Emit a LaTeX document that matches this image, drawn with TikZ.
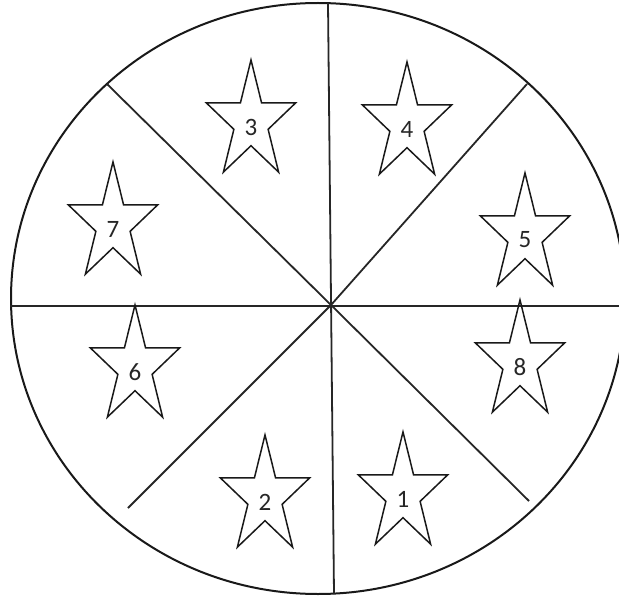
\documentclass[tikz,border=0pt]{standalone}
\usepackage{fontspec}
\setmainfont{Carlito}
\begin{document}
\begin{tikzpicture}[x=1pt,y=-1pt,
  rim/.style={line width=2pt, draw=black!90},
  spoke/.style={line width=1.8pt, draw=black!85},
  starline/.style={line width=1.5pt, draw=black!90, line join=miter},
  numlbl/.style={font=\fontsize{25}{30}\selectfont, inner sep=0pt, text=black!85},
  starpic/.pic={
    \draw[starline] (90:47pt and 62pt) -- (126:18pt and 23.7pt) -- (162:47pt and 62pt)
      -- (198:18pt and 23.7pt) -- (234:47pt and 62pt) -- (270:18pt and 23.7pt)
      -- (306:47pt and 62pt) -- (342:18pt and 23.7pt) -- (18:47pt and 62pt)
      -- (54:18pt and 23.7pt) -- cycle;
    \node[numlbl] (-n) at (0,5) {#1};
  }]
\useasboundingbox (0,0) rectangle (619,599);
\begin{scope}
\clip (0,0) rectangle (619,599);
\node[draw=none, inner sep=0pt, minimum size=0pt] (C) at (318,298.5) {};
\draw[rim] (C.center) ellipse [x radius=307, y radius=295.5];
\coordinate (O) at (331,305);
\coordinate (N) at (328,3);
\coordinate (S) at (334,594);
\coordinate (W) at (10,306);
\coordinate (E) at (630,306);
\coordinate (NW) at (107,84);
\coordinate (NE) at (527,84);
\coordinate (SE) at (529,501);
\coordinate (SW) at (128,508);
\draw[spoke] (N) -- (S);
\draw[spoke] (W) -- (E);
\draw[spoke] (NW) -- (O) -- (SE);
\draw[spoke] (NE) -- (O) -- (SW);
\end{scope}
\pic (s3) at (251,122) {starpic=3};
\pic (s4) at (407,124) {starpic=4};
\pic (s7) at (113,224) {starpic=7};
\pic (s5) at (525,235) {starpic=5};
\pic (s6) at (135,367) {starpic=6};
\pic (s8) at (520,362) {starpic=8};
\pic (s2) at (265,497) {starpic=2};
\pic (s1) at (403,494) {starpic=1};
\end{tikzpicture}
\end{document}
